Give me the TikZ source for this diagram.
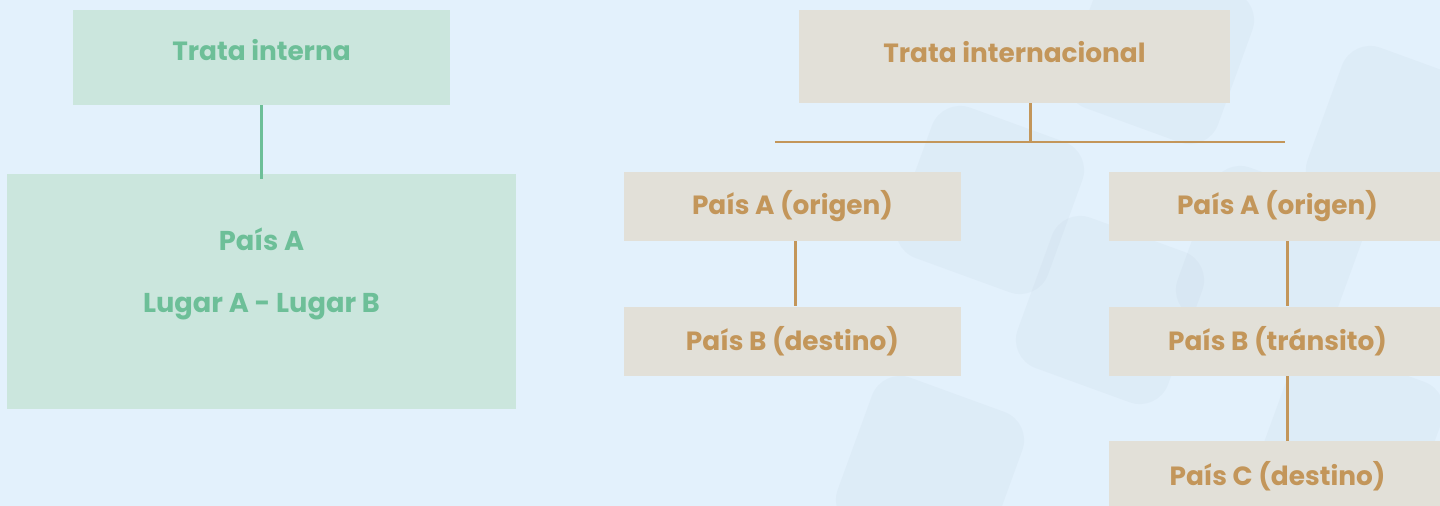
\documentclass[tikz,border=0pt]{standalone}
\usepackage{fontspec}
\setmainfont{Poppins}
\usetikzlibrary{positioning, calc}

\definecolor{bgblue}{HTML}{E3F1FC}
\definecolor{tileblue}{HTML}{A9BCCB}
\definecolor{greenfill}{HTML}{CBE6DD}
\definecolor{greentext}{HTML}{6DBF98}
\definecolor{beigefill}{HTML}{E2E0D8}
\definecolor{beigetext}{HTML}{C3965A}

\tikzset{
  greenbox/.style={fill=greenfill, text=greentext, inner sep=0pt, font=\fontsize{15}{18}\selectfont\bfseries},
  beigebox/.style={fill=beigefill, text=beigetext, inner sep=0pt, minimum width=6.74cm, minimum height=1.38cm, font=\fontsize{15}{18}\selectfont\bfseries},
  greenline/.style={draw=greentext, line width=1.7pt},
  beigeline/.style={draw=beigetext, line width=1.7pt},
  tile/.style={fill=tileblue, fill opacity=0.09, rounded corners=0.6cm}
}

\begin{document}
\begin{tikzpicture}[x=0.02cm, y=-0.02cm]

% Background
\useasboundingbox (0,0) rectangle (1440,506);
\fill[bgblue] (0,0) rectangle (1440,506);
\begin{scope}
\clip (0,0) rectangle (1440,506);
\foreach \cx/\cy in {1160/50, 1400/140, 1110/310, 1350/440, 930/470, 990/200, 1270/260}
  \fill[tile, rotate around={-20:(\cx,\cy)}] (\cx-80,\cy-80) rectangle (\cx+80,\cy+80);
\end{scope}

% Trata interna (left)
\node (interna) [greenbox, minimum width=7.54cm, minimum height=1.9cm] at (261.5,57.5) {};
\node (internatxt) [text=greentext, font=\fontsize{15}{18}\selectfont\bfseries] at (261.5,50) {Trata interna};
\node (pais) [greenbox, minimum width=10.18cm, minimum height=4.7cm] at (261.5,291.5) {};
\node (paistxt) [text=greentext, font=\fontsize{15.5}{18}\selectfont\bfseries, align=center] at (261.5,274)
  {País A\\[0.62cm]Lugar A - Lugar B};

\draw[greenline] (interna.south) -- ([yshift=-0.1cm]pais.north);

% Trata internacional (right)
\node (internacional) [beigebox, minimum width=8.62cm, minimum height=1.86cm] at (1014.5,56.5) {};
\node (internacionaltxt) [text=beigetext, font=\fontsize{15}{18}\selectfont\bfseries] at (1014.5,52) {Trata internacional};

\coordinate (barL) at (775,142);
\coordinate (barR) at (1285,142);
\coordinate (barM) at (1030,142);

\node (origenL) [beigebox] at (792.5,206.5) {País A (origen)};
\node (destinoL) [beigebox, below=1.3cm of origenL] {País B (destino)};

\node (origenR) [beigebox] at (1277.5,206.5) {País A (origen)};
\node (transito) [beigebox, below=1.3cm of origenR] {País B (tránsito)};
\node (destinoR) [beigebox, below=1.3cm of transito] {País C (destino)};

% Connectors
\draw[beigeline] (internacional.south -| barM) -- (barM);
\draw[beigeline] (barL) -- (barR);
\draw[beigeline] ([xshift=0.06cm]origenL.south) -- ([xshift=0.06cm]destinoL.north);
\draw[beigeline] ([xshift=0.19cm]origenR.south) -- ([xshift=0.19cm]transito.north);
\draw[beigeline] ([xshift=0.19cm]transito.south) -- ([xshift=0.19cm]destinoR.north);

\end{tikzpicture}
\end{document}
